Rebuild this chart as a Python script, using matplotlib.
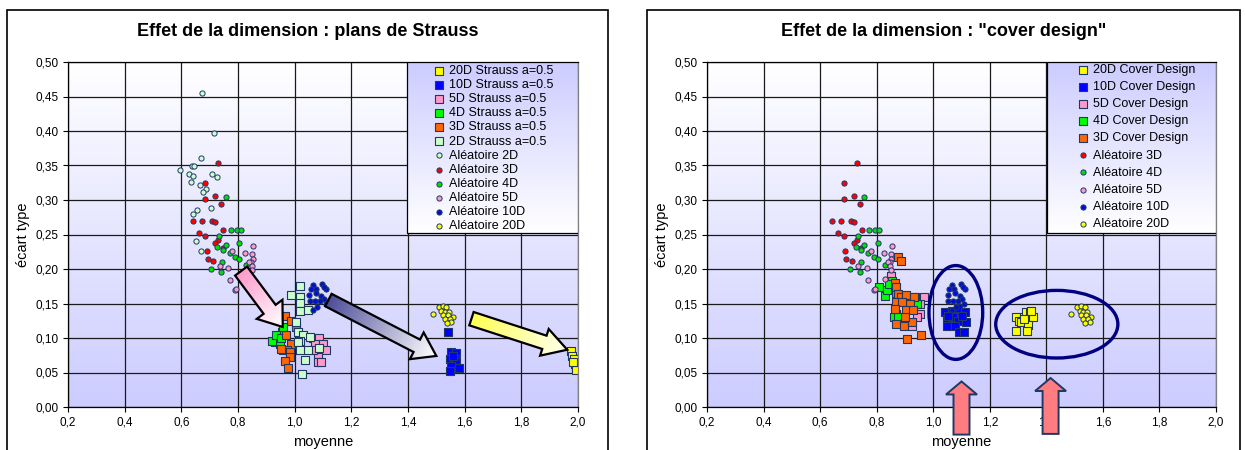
import numpy as np
import matplotlib
matplotlib.use("Agg")
from matplotlib import pyplot as plt
from matplotlib import colors as mcolors
from matplotlib.patches import Polygon, Ellipse, Rectangle

plt.rcParams['font.family'] = ['Liberation Sans', 'DejaVu Sans']

# --- random designs (Aléatoire), same draws in both charts ---
ALEA2D_X = [0.674, 0.715, 0.668, 0.639, 0.645, 0.596, 0.627, 0.641, 0.708, 0.726, 0.635, 0.665,
            0.688, 0.676, 0.706, 0.655, 0.641, 0.652, 0.669]
ALEA2D_Y = [0.455, 0.397, 0.361, 0.349, 0.350, 0.344, 0.338, 0.335, 0.338, 0.333, 0.326, 0.322,
            0.316, 0.311, 0.289, 0.286, 0.279, 0.241, 0.226]
ALEA3D_X = [0.731, 0.685, 0.719, 0.685, 0.740, 0.641, 0.673, 0.709, 0.719, 0.747, 0.662, 0.685,
            0.729, 0.719, 0.746, 0.689, 0.693, 0.713]
ALEA3D_Y = [0.354, 0.324, 0.306, 0.302, 0.294, 0.269, 0.269, 0.269, 0.268, 0.257, 0.252, 0.248,
            0.242, 0.238, 0.231, 0.226, 0.214, 0.211]
ALEA4D_X = [0.756, 0.774, 0.795, 0.809, 0.733, 0.756, 0.726, 0.746, 0.804, 0.771, 0.789, 0.804,
            0.745, 0.704, 0.740, 0.829]
ALEA4D_Y = [0.305, 0.257, 0.257, 0.257, 0.248, 0.235, 0.232, 0.228, 0.237, 0.223, 0.218, 0.214,
            0.210, 0.200, 0.196, 0.206]
ALEA5D_X = [0.853, 0.780, 0.826, 0.850, 0.852, 0.846, 0.840, 0.848, 0.735, 0.765, 0.850, 0.770,
            0.790, 0.794, 0.830]
ALEA5D_Y = [0.233, 0.226, 0.223, 0.222, 0.215, 0.210, 0.210, 0.205, 0.205, 0.201, 0.198, 0.184,
            0.170, 0.171, 0.186]
ALEA10D_X = [1.065, 1.098, 1.056, 1.074, 1.112, 1.051, 1.076, 1.094, 1.102, 1.053, 1.071, 1.088,
             1.109, 1.079, 1.065, 1.105]
ALEA10D_Y = [0.177, 0.178, 0.171, 0.171, 0.171, 0.162, 0.165, 0.161, 0.157, 0.154, 0.154, 0.154,
             0.150, 0.145, 0.141, 0.174]
ALEA20D_X = [1.488, 1.509, 1.524, 1.535, 1.518, 1.529, 1.545, 1.524, 1.541, 1.559, 1.529, 1.547,
             1.553, 1.538]
ALEA20D_Y = [0.135, 0.145, 0.146, 0.145, 0.139, 0.138, 0.138, 0.133, 0.133, 0.130, 0.128, 0.127,
             0.123, 0.122]

# --- Strauss designs a=0.5 ---
S2D_X = [1.018, 0.988, 1.018, 1.020, 1.018, 1.047, 1.006, 1.010, 1.030, 1.018, 1.012, 1.047,
         1.018, 1.035, 1.027, 1.086, 1.053]
S2D_Y = [0.176, 0.163, 0.159, 0.151, 0.139, 0.140, 0.123, 0.109, 0.104, 0.096, 0.094, 0.083,
         0.082, 0.068, 0.048, 0.086, 0.101]
S3D_X = [0.965, 0.988, 1.006, 0.988, 0.973, 0.985, 0.982, 0.965, 0.976, 0.953, 0.968]
S3D_Y = [0.132, 0.125, 0.116, 0.092, 0.082, 0.079, 0.072, 0.067, 0.057, 0.084, 0.105]
S4D_X = [0.956, 0.958, 0.929, 0.947, 0.921, 0.935, 0.953, 0.959]
S4D_Y = [0.109, 0.116, 0.094, 0.091, 0.096, 0.104, 0.100, 0.082]
S5D_X = [1.065, 1.086, 1.071, 1.100, 1.112, 1.082, 1.082, 1.094, 1.065]
S5D_Y = [0.100, 0.100, 0.092, 0.091, 0.082, 0.072, 0.065, 0.065, 0.082]
S10D_X = [1.541, 1.553, 1.568, 1.547, 1.565, 1.571, 1.553, 1.580, 1.549, 1.559]
S10D_Y = [0.108, 0.079, 0.078, 0.070, 0.069, 0.065, 0.060, 0.057, 0.052, 0.074]
S20D_X = [1.976, 1.980, 1.985, 1.988, 1.992, 1.994, 1.982]
S20D_Y = [0.081, 0.074, 0.070, 0.063, 0.057, 0.053, 0.065]

# --- cover designs ---
C3D_X = [0.877, 0.887, 0.865, 0.868, 0.877, 0.887, 0.903, 0.906, 0.933, 0.918, 0.868, 0.889,
         0.868, 0.895, 0.926, 0.903, 0.909, 0.956, 0.866, 0.900, 0.930]
C3D_Y = [0.218, 0.212, 0.179, 0.174, 0.164, 0.159, 0.163, 0.145, 0.159, 0.150, 0.152, 0.152,
         0.121, 0.118, 0.123, 0.140, 0.098, 0.104, 0.142, 0.130, 0.141]
C4D_X = [0.807, 0.828, 0.836, 0.854, 0.860, 0.877, 0.942, 0.845, 0.870]
C4D_Y = [0.174, 0.161, 0.170, 0.183, 0.131, 0.131, 0.150, 0.178, 0.165]
C5D_X = [0.936, 0.967, 0.953, 0.942, 0.924, 0.955, 0.900, 0.870, 0.850]
C5D_Y = [0.159, 0.159, 0.135, 0.130, 0.118, 0.150, 0.155, 0.135, 0.190]
C10D_X = [1.041, 1.065, 1.088, 1.112, 1.047, 1.071, 1.088, 1.115, 1.047, 1.076, 1.091, 1.108,
          1.053, 1.100]
C10D_Y = [0.137, 0.139, 0.144, 0.137, 0.127, 0.130, 0.125, 0.123, 0.118, 0.118, 0.109, 0.108,
          0.132, 0.132]
C20D_X = [1.291, 1.302, 1.321, 1.329, 1.341, 1.353, 1.309, 1.335, 1.294, 1.332, 1.321, 1.347]
C20D_Y = [0.131, 0.125, 0.131, 0.137, 0.138, 0.131, 0.123, 0.119, 0.110, 0.110, 0.127, 0.139]

YELLOW, BLUE, PINK, GREEN, ORANGE, MINT = '#ffff00', '#0000ff', '#ff99cc', '#00ff00', '#ff6600', '#ccffcc'
RED, GREEN2, BLUE2 = '#ff0000', '#00e000', '#0010d0'
EDGE = '#203864'

W, H = 1245, 450
fig = plt.figure(figsize=(W / 100, H / 100), dpi=100)


def vgrad(ax, top, bot, ext, z):
    t = np.linspace(0, 1, 256)[:, None, None]
    img = np.array(mcolors.to_rgb(top)) * (1 - t) + np.array(mcolors.to_rgb(bot)) * t
    ax.imshow(img, extent=ext, transform=ax.transAxes, aspect='auto', zorder=z)


def setup(ax):
    ax.set_xlim(0.2, 2.0)
    ax.set_ylim(0, 0.5)
    ax.set_xticks(np.arange(0.2, 2.01, 0.2))
    ax.set_yticks(np.arange(0, 0.501, 0.05))
    ax.set_xticklabels([f"{v:.1f}".replace('.', ',') for v in np.arange(0.2, 2.01, 0.2)])
    ax.set_yticklabels([f"{v:.2f}".replace('.', ',') for v in np.arange(0, 0.501, 0.05)])
    ax.tick_params(direction='out', length=3.5, width=0.8, labelsize=8.5, pad=3)
    ax.set_axisbelow(True)
    ax.grid(True, color='#1a1a1a', lw=0.9)
    for s in ax.spines.values():
        s.set_color('black')
        s.set_linewidth(0.9)
    ax.spines['right'].set_color('#808080')
    vgrad(ax, '#ffffff', '#ccccff', [0, 1, 0, 1], -10)
    ax.set_xlabel('moyenne', fontsize=10.5, labelpad=5)
    ax.set_ylabel('écart type', fontsize=10.5, labelpad=4)
    ax.set_xlim(0.2, 2.0)
    ax.set_ylim(0, 0.5)


def arrow(ax, tail, tip, c0, c1, shaft, head_w, head_l, ec, lw, z=8):
    pos = ax.get_position()
    (xa, xb), (ya, yb) = ax.get_xlim(), ax.get_ylim()
    sx, sy = pos.width * W / (xb - xa), pos.height * H / (yb - ya)
    p0 = np.array([tail[0] * sx, tail[1] * sy])
    p1 = np.array([tip[0] * sx, tip[1] * sy])
    L = np.linalg.norm(p1 - p0)
    u = (p1 - p0) / L
    n = np.array([-u[1], u[0]])
    b = p1 - u * head_l
    pts = np.array([p0 + n * shaft / 2, b + n * shaft / 2, b + n * head_w / 2, p1,
                    b - n * head_w / 2, b - n * shaft / 2, p0 - n * shaft / 2]) / [sx, sy]
    solid = c0 == c1
    poly = Polygon(pts, closed=True, fc=c0 if solid else 'none', ec=ec, lw=lw,
                   zorder=z + 0.1, clip_on=False, joinstyle='miter')
    ax.add_patch(poly)
    if not solid:
        x0, y0 = pts.min(0)
        x1, y1 = pts.max(0)
        GX, GY = np.meshgrid(np.linspace(x0, x1, 200) * sx, np.linspace(y1, y0, 200) * sy)
        t = np.clip(((GX - p0[0]) * u[0] + (GY - p0[1]) * u[1]) / L, 0, 1)[..., None]
        img = np.array(mcolors.to_rgb(c0)) * (1 - t) + np.array(mcolors.to_rgb(c1)) * t
        im = ax.imshow(img, extent=[x0, x1, y0, y1], aspect='auto', zorder=z)
        im.set_clip_path(poly)
    ax.set_xlim(xa, xb)
    ax.set_ylim(ya, yb)


def legend_box(ax, x0, y0):
    vgrad(ax, '#ccccff', '#ffffff', [x0, 1, y0, 1], 9)
    ax.add_patch(Rectangle((x0, y0), 1 - x0, 1 - y0, transform=ax.transAxes, fc='none',
                           ec='black', lw=0.9, zorder=9.5))


sq = dict(marker='s', s=28, edgecolors=EDGE, linewidths=0.8)
ci = dict(marker='o', s=14, edgecolors=EDGE, linewidths=0.7)

# chart boxes + titles
for x0, x1, title in [(7, 608, 'Effet de la dimension : plans de Strauss'),
                      (647, 1240, 'Effet de la dimension : "cover design"')]:
    fig.patches.append(Rectangle((x0 / W, -0.1), (x1 - x0) / W, 1.1 - 10 / H,
                                 transform=fig.transFigure, fc='none', ec='black', lw=1.2))
    fig.text((x0 + x1) / 2 / W, 1 - 32 / H, title, ha='center', va='center',
             fontsize=13, fontweight='bold')

# ---- left chart ----
ax1 = fig.add_axes([68 / W, 43 / H, 510 / W, 345 / H])
setup(ax1)
ax1.scatter(S20D_X, S20D_Y, c=YELLOW, label='20D Strauss a=0.5', **sq)
ax1.scatter(S10D_X, S10D_Y, c=BLUE, label='10D Strauss a=0.5', **sq)
ax1.scatter(S5D_X, S5D_Y, c=PINK, label='5D Strauss a=0.5', **sq)
ax1.scatter(S4D_X, S4D_Y, c=GREEN, label='4D Strauss a=0.5', **sq)
ax1.scatter(S3D_X, S3D_Y, c=ORANGE, label='3D Strauss a=0.5', **sq)
ax1.scatter(S2D_X, S2D_Y, c=MINT, label='2D Strauss a=0.5', **sq)
ax1.scatter(ALEA2D_X, ALEA2D_Y, c=MINT, label='Aléatoire 2D', **ci)
ax1.scatter(ALEA3D_X, ALEA3D_Y, c=RED, label='Aléatoire 3D', **ci)
ax1.scatter(ALEA4D_X, ALEA4D_Y, c=GREEN2, label='Aléatoire 4D', **ci)
ax1.scatter(ALEA5D_X, ALEA5D_Y, c=PINK, label='Aléatoire 5D', **ci)
ax1.scatter(ALEA10D_X, ALEA10D_Y, c=BLUE2, label='Aléatoire 10D', **ci)
ax1.scatter(ALEA20D_X, ALEA20D_Y, c=YELLOW, label='Aléatoire 20D', **ci)

arrow(ax1, (0.811, 0.197), (0.958, 0.116), '#ff99cc', '#ffffff', 15, 32, 22, 'black', 1.6)
arrow(ax1, (1.119, 0.155), (1.500, 0.074), '#4d4d99', '#ffffff', 14, 30, 22, 'black', 1.6)
arrow(ax1, (1.624, 0.128), (1.962, 0.083), '#ffff55', '#ffffee', 14, 28, 24, 'black', 1.6)

legend_box(ax1, (407 - 68) / 510, (407 - 233) / 345)
leg = ax1.legend(loc='upper left', bbox_to_anchor=((434 - 68) / 510, (407 - 65) / 345),
                 frameon=False, fontsize=9, borderpad=0, borderaxespad=0, handlelength=0.8,
                 handletextpad=0.4, labelspacing=0.17, scatterpoints=1)
leg.set_zorder(10)

# ---- right chart ----
ax2 = fig.add_axes([707 / W, 43 / H, 509 / W, 345 / H])
setup(ax2)
ax2.scatter(C20D_X, C20D_Y, c=YELLOW, label='20D Cover Design', **sq)
ax2.scatter(C10D_X, C10D_Y, c=BLUE, label='10D Cover Design', **sq)
ax2.scatter(C5D_X, C5D_Y, c=PINK, label='5D Cover Design', **sq)
ax2.scatter(C4D_X, C4D_Y, c=GREEN, label='4D Cover Design', **sq)
ax2.scatter(C3D_X, C3D_Y, c=ORANGE, label='3D Cover Design', **sq)
ax2.scatter(ALEA3D_X, ALEA3D_Y, c=RED, label='Aléatoire 3D', **ci)
ax2.scatter(ALEA4D_X, ALEA4D_Y, c=GREEN2, label='Aléatoire 4D', **ci)
ax2.scatter(ALEA5D_X, ALEA5D_Y, c=PINK, label='Aléatoire 5D', **ci)
ax2.scatter(ALEA10D_X, ALEA10D_Y, c=BLUE2, label='Aléatoire 10D', **ci)
ax2.scatter(ALEA20D_X, ALEA20D_Y, c=YELLOW, label='Aléatoire 20D', **ci)

ax2.add_patch(Ellipse((1.08, 0.137), 0.19, 0.136, fc='none', ec='#000080', lw=2.4, zorder=7))
ax2.add_patch(Ellipse((1.437, 0.12), 0.432, 0.098, fc='none', ec='#000080', lw=2.4, zorder=7))
arrow(ax2, (1.100, -0.040), (1.100, 0.037), '#ff7c80', '#ff7c80', 16, 31, 13, '#1f3864', 1.4)
arrow(ax2, (1.415, -0.039), (1.415, 0.042), '#ff7c80', '#ff7c80', 16, 31, 13, '#1f3864', 1.4)

legend_box(ax2, (1047 - 707) / 509, (407 - 233) / 345)
leg2 = ax2.legend(loc='upper left', bbox_to_anchor=((1078 - 707) / 509, (407 - 64) / 345),
                  frameon=False, fontsize=9, borderpad=0, borderaxespad=0, handlelength=0.8,
                  handletextpad=0.4, labelspacing=0.41, scatterpoints=1)
leg2.set_zorder(10)

fig.savefig('out.png', dpi=100)
